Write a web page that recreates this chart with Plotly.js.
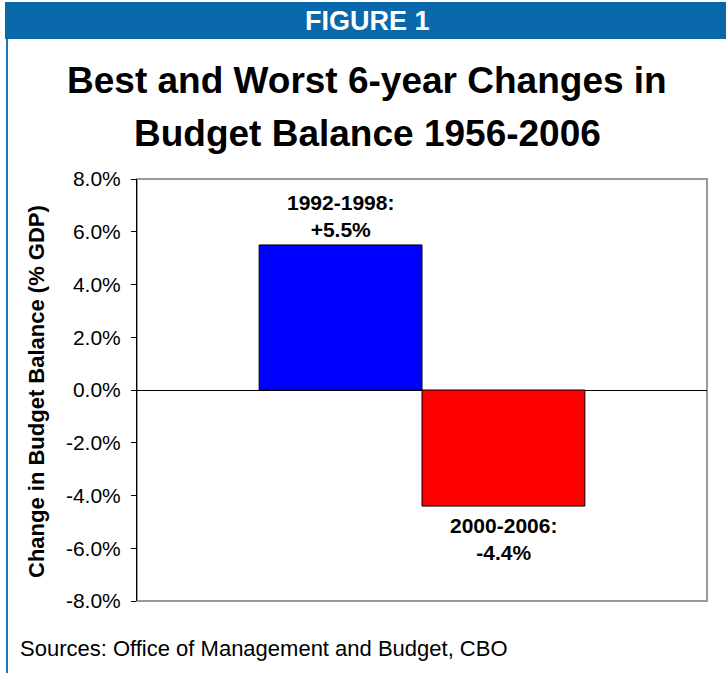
<!DOCTYPE html>
<html>
<head>
<meta charset="utf-8">
<script src="https://cdn.plot.ly/plotly-3.0.1.min.js"></script>
<style>html,body{margin:0;padding:0;background:#fff;}#chart{width:726px;height:673px;}</style>
</head>
<body>
<div id="chart"></div>
<script>
const categories = ["1992-1998", "2000-2006"];
const values = [5.5, -4.4];
const barColors = ["#0000FF", "#FF0000"];
const barLabels = ["1992-1998:<br>+5.5%", "2000-2006:<br>-4.4%"];
const tickVals = [-8, -6, -4, -2, 0, 2, 4, 6, 8];
const tickText = ["-8.0%", "-6.0%", "-4.0%", "-2.0%", "0.0%", "2.0%", "4.0%", "6.0%", "8.0%"];
const titleLines = ["Best and Worst 6-year Changes in", "Budget Balance 1956-2006"];

const W = 726, H = 673;
const L = 137, R = 707, T = 179, B = 601;
const px = x => (x - L) / (R - L);
const py = y => (B - y) / (B - T);
const FONT = 'Liberation Sans, Arial, sans-serif';

const trace = {
  type: 'bar',
  x: categories,
  y: values,
  width: 1,
  marker: {color: barColors, line: {color: '#000', width: 1}},
  hoverinfo: 'skip'
};

const annotations = [
  {xref: 'paper', yref: 'paper', x: px(367), y: py(21), text: '<b>FIGURE 1</b>', showarrow: false,
   font: {family: FONT, size: 27, color: '#fff'}, xanchor: 'center', yanchor: 'middle'},
  {xref: 'paper', yref: 'paper', x: px(367), y: py(81), text: '<b>' + titleLines[0] + '</b>', showarrow: false,
   font: {family: FONT, size: 37, color: '#000'}, xanchor: 'center', yanchor: 'middle'},
  {xref: 'paper', yref: 'paper', x: px(367), y: py(133), text: '<b>' + titleLines[1] + '</b>', showarrow: false,
   font: {family: FONT, size: 37, color: '#000'}, xanchor: 'center', yanchor: 'middle'},
  {xref: 'paper', yref: 'paper', x: px(18), y: py(648), text: 'Sources: Office of Management and Budget, CBO', showarrow: false,
   font: {family: FONT, size: 22, color: '#000'}, xanchor: 'left', yanchor: 'middle'},
  {xref: 'paper', yref: 'paper', x: px(36), y: py(392), text: '<b>Change in Budget Balance (% GDP)</b>', showarrow: false, textangle: -90,
   font: {family: FONT, size: 22, color: '#000'}, xanchor: 'center', yanchor: 'middle'},
  {xref: 'x', yref: 'y', x: categories[0], y: values[0], text: '<b>' + barLabels[0] + '</b>', showarrow: false,
   font: {family: FONT, size: 21, color: '#000'}, yanchor: 'bottom', yshift: 2},
  {xref: 'x', yref: 'y', x: categories[1], y: values[1], text: '<b>' + barLabels[1] + '</b>', showarrow: false,
   font: {family: FONT, size: 21, color: '#000'}, yanchor: 'top', yshift: -6}
];

const shapes = [
  {type: 'rect', xref: 'paper', yref: 'paper', x0: px(5), x1: px(727), y0: py(2), y1: py(39),
   fillcolor: '#0868AA', line: {width: 0}, layer: 'below'},
  {type: 'line', xref: 'paper', yref: 'paper', x0: px(7), x1: px(7), y0: py(39), y1: py(673),
   line: {color: '#1E78C0', width: 2}},
  {type: 'rect', xref: 'paper', yref: 'paper', x0: 0, x1: 1, y0: 0, y1: 1,
   line: {color: '#999', width: 2}, layer: 'below'}
];

const layout = {
  width: W, height: H,
  margin: {l: L, r: W - R, t: T, b: H - B, pad: 0},
  paper_bgcolor: '#fff', plot_bgcolor: '#fff',
  showlegend: false,
  bargap: 0,
  xaxis: {type: 'category', range: [-1.25, 2.25], showticklabels: false, ticks: '', showgrid: false, zeroline: false, showline: false, fixedrange: true},
  yaxis: {range: [-8, 8], tickvals: tickVals, ticktext: tickText, ticks: 'outside', ticklen: 5, tickcolor: '#000',
    showline: true, linecolor: '#000', linewidth: 1, showgrid: false, zeroline: true, zerolinecolor: '#000', zerolinewidth: 1,
    tickfont: {family: FONT, size: 21, color: '#000'}, ticklabelstandoff: 6},
  annotations: annotations,
  shapes: shapes
};

Plotly.newPlot('chart', [trace], layout, {staticPlot: true, displayModeBar: false});
</script>
</body>
</html>
